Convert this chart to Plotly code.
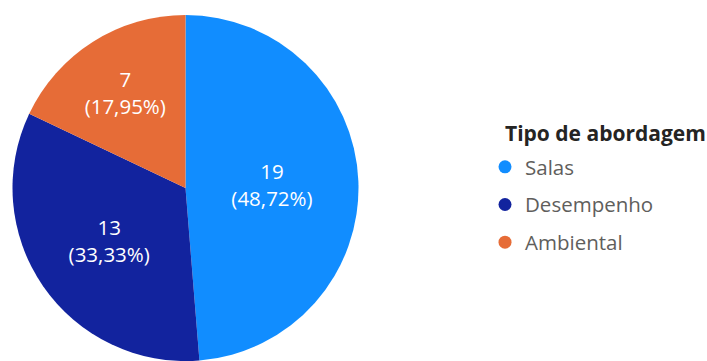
import plotly.graph_objects as go

categories = ["Salas", "Desempenho", "Ambiental"]
values = [19, 13, 7]
colors = ["#118DFF", "#12239E", "#E66C37"]
legend_title = "Tipo de abordagem"

W, H = 707, 361
cx, cy, r = 185.5, 188, 173

fig = go.Figure()
fig.add_trace(go.Pie(
    labels=categories,
    values=values,
    marker=dict(colors=colors, line=dict(width=0)),
    sort=False,
    direction="clockwise",
    rotation=0,
    texttemplate="%{value}<br>(%{percent:.2%})",
    textposition="inside",
    insidetextorientation="horizontal",
    insidetextfont=dict(color="white", size=20.5, family="Open Sans"),
    showlegend=False,
    hoverinfo="skip",
    domain=dict(x=[(cx - r) / W, (cx + r) / W], y=[1 - (cy + r) / H, 1 - (cy - r) / H]),
))

for cat, col in zip(categories, colors):
    fig.add_trace(go.Scatter(
        x=[None], y=[None], mode="markers", name=cat,
        marker=dict(symbol="circle", size=13, color=col),
        legendgroup=cat, showlegend=True, hoverinfo="skip",
    ))

fig.add_annotation(
    text="<b>" + legend_title + "</b>", xref="paper", yref="paper",
    x=503 / W, xanchor="left", y=1 - 133 / H, yanchor="middle",
    showarrow=False, font=dict(size=21, color="#252423", family="Open Sans"),
)

fig.update_layout(
    width=W, height=H,
    margin=dict(l=0, r=0, t=0, b=0),
    paper_bgcolor="white", plot_bgcolor="white",
    separators=",.",
    font=dict(family="Open Sans", color="#605E5C"),
    xaxis=dict(visible=False), yaxis=dict(visible=False),
    legend=dict(
        font=dict(size=20.5, color="#605E5C"),
        x=485 / W, xanchor="left", y=1 - 147 / H, yanchor="top",
        tracegroupgap=8, bgcolor="rgba(0,0,0,0)",
    ),
)

fig.write_html("out.html", config={"displayModeBar": False},
               post_script="document.body.style.margin='0';")
